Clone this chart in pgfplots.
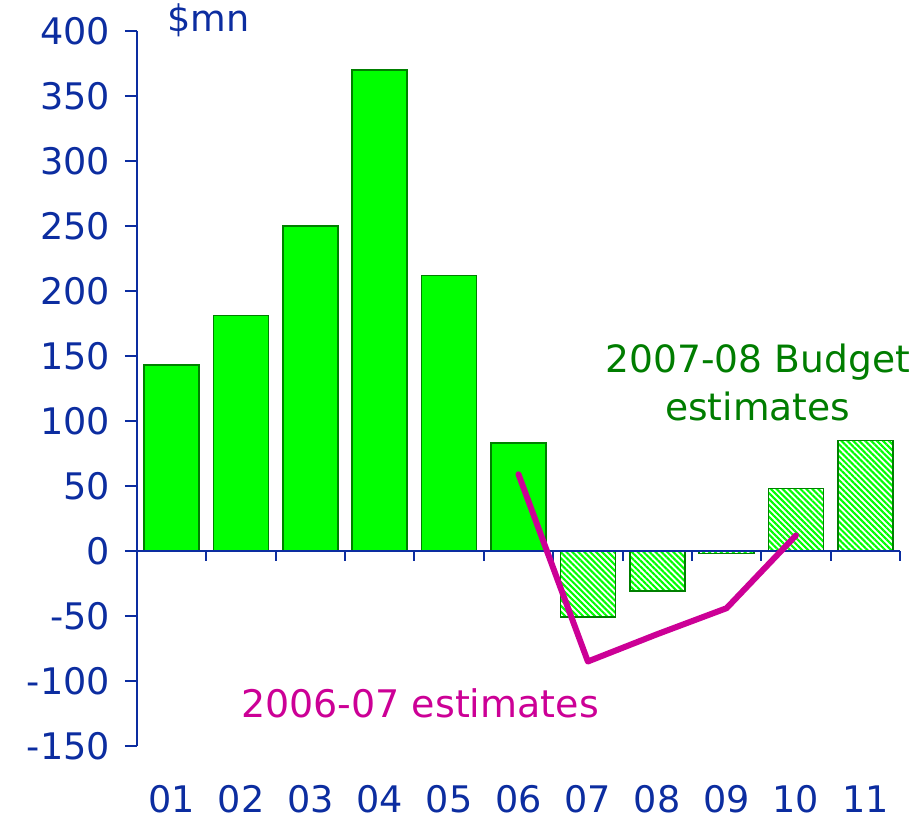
\documentclass[border=0pt]{standalone}
\usepackage{fontspec}
\setmainfont{DejaVu Sans}
\usepackage{pgfplots}
\pgfplotsset{compat=1.18}
\usetikzlibrary{patterns.meta}
\definecolor{axblue}{RGB}{12,45,160}
\definecolor{bargreen}{RGB}{0,255,0}
\definecolor{edgegreen}{RGB}{0,128,0}
\definecolor{txtgreen}{RGB}{0,125,0}
\definecolor{magline}{RGB}{204,0,150}
\begin{document}
\begin{tikzpicture}
\path[use as bounding box] (-68.5pt,-38.5pt) rectangle (390.5pt,373pt);
\begin{axis}[
  scale only axis,
  width=381.5pt, height=357.5pt,
  xmin=0.5, xmax=11.5,
  ymin=-150, ymax=400,
  axis x line=none,
  axis y line*=left,
  y axis line style={axblue, line width=1pt, -},
  ytick={-150,-100,...,400},
  tick style={axblue, line width=1pt},
  tick align=outside,
  major tick length=6pt,
  yticklabel style={font=\fontsize{18.3}{20}\selectfont, text=axblue, xshift=-4pt},
  /pgf/number format/assume math mode=true,
  clip=false,
]
\addplot[ybar, bar width=27.5pt, bar shift=0pt, fill=bargreen, draw=edgegreen, line width=0.8pt]
  coordinates {(1,143) (2,181) (3,250) (4,370) (5,212) (6,83)};
\addplot[ybar, bar width=27.5pt, bar shift=0pt, draw=edgegreen, line width=0.8pt,
  pattern={Lines[angle=-45, distance=2.1pt, line width=1.05pt]}, pattern color=bargreen]
  coordinates {(7,-51) (8,-31) (9,-2) (10,48) (11,85)};
% zero axis line with separator ticks
\draw[axblue, line width=1pt] (axis cs:0.5,0) -- (axis cs:11.5,0);
\pgfplotsinvokeforeach{0.5,1.5,...,11.5}{
  \draw[axblue, line width=1pt] (axis cs:#1,0) -- ([yshift=-5pt]axis cs:#1,0);
}
\pgfplotsinvokeforeach{1,...,11}{
  \node[text=axblue, inner sep=0pt, anchor=base, text depth=0pt, font=\fontsize{18.3}{20}\selectfont] at (axis cs:#1,-150) [yshift=-33.5pt] {\ifnum#1<10 0\fi#1};
}
\addplot[magline, line width=3pt, no marks, line join=round, line cap=round]
  coordinates {(6,59) (7,-85) (8,-64) (9,-44) (10,12)};
\node[anchor=west, inner sep=0pt, text=axblue, font=\fontsize{18.3}{20}\selectfont] at (axis cs:0.93,408) {\$mn};
\node[align=center, inner sep=0pt, text=txtgreen, font=\fontsize{18.8}{24}\selectfont] at (axis cs:9.45,130) {2007-08 Budget\\estimates};
\node[text=magline, inner sep=0pt, font=\fontsize{19}{20}\selectfont] at (axis cs:4.58,-117) {2006-07 estimates};
\end{axis}
\end{tikzpicture}
\end{document}
